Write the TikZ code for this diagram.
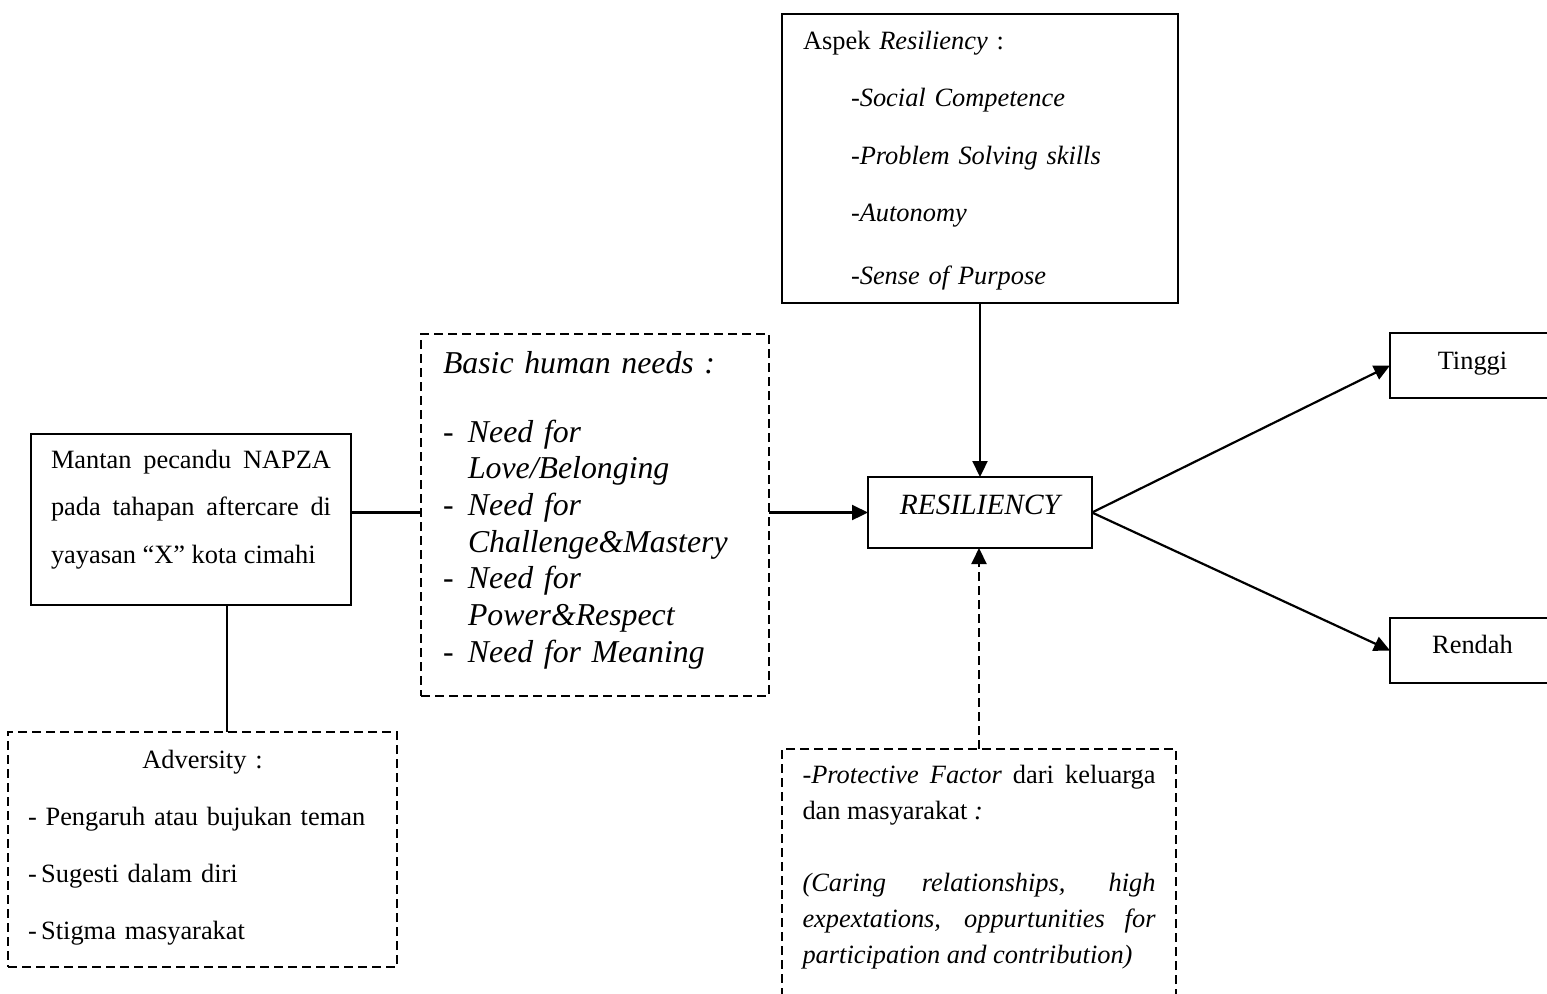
\documentclass[tikz,border=0pt]{standalone}
\usepackage{fontspec}
\setmainfont{Liberation Serif}
\usepackage{tikz}
\usetikzlibrary{arrows.meta}
\newcommand{\fmain}[1]{\fontsize{13.2}{#1}\selectfont}
\newcommand{\nohyph}{\hyphenpenalty=10000 \exhyphenpenalty=10000 \tolerance=10000 }

\begin{document}
\begin{tikzpicture}[x=0.5pt, y=-0.5pt,
	box/.style={draw, line width=1.1pt, anchor=north west, inner ysep=0pt, outer sep=0pt},
	dbox/.style={box, dash pattern=on 4.5pt off 2.5pt},
	link/.style={line width=1.1pt},
	arr/.style={link, -{Triangle[length=8pt, width=7.5pt]}}]
			\useasboundingbox (0,0) rectangle (1547,993);
			\clip (0,0) rectangle (1547,993);
			%   %   %   %   %   %   %   %   %   %   %
			%   Subjek
				\node[box, text width=140pt, inner xsep=10pt, text height=17pt, text depth=68.5pt,
				align=justify, font={\fmain{23.75}\nohyph}] (mantan) at (31,434)
				{Mantan pecandu NAPZA pada tahapan aftercare di yayasan \mbox{“X”} kota cimahi};
			%   %   %   %   %   %   %   %   %   %   %
			%   Adversity
				\node[dbox, text width=174.5pt, inner xsep=10pt, text height=18pt, text depth=99.5pt,
				align=left, font={\fmain{28.5}}] (adver) at (8,732)
				{\makebox[\linewidth]{Adversity :}\\
				- Pengaruh atau bujukan teman\\
				-\,Sugesti dalam diri\\
				-\,Stigma masyarakat};
			%   %   %   %   %   %   %   %   %   %   %
			%   Basic human needs
				\node[dbox, text width=152pt, inner xsep=11pt, text height=19.5pt, text depth=161.5pt,
				align=left, font={\fontsize{15.9}{18.35}\selectfont\itshape}] (basic) at (421,334)
				{Basic human needs :\\[16.15pt]
				\makebox[12.5pt][l]{-}Need for\\ \hspace*{12.5pt}Love/Belonging\\
				\makebox[12.5pt][l]{-}Need for\\ \hspace*{12.5pt}Challenge\&Mastery\\
				\makebox[12.5pt][l]{-}Need for\\ \hspace*{12.5pt}Power\&Respect\\
				\makebox[12.5pt][l]{-}Need for Meaning};
			%   %   %   %   %   %   %   %   %   %   %
			%   Aspek resiliency
				\node[box, text width=177pt, inner xsep=10.5pt, text height=17.5pt, text depth=127pt,
				align=left, font={\fmain{28.75}}] (aspek) at (782,14)
				{Aspek \textit{Resiliency} :\\
				\hspace*{24pt}\textit{-Social Competence}\\
				\hspace*{24pt}\textit{-Problem Solving skills}\\
				\hspace*{24pt}\textit{-Autonomy}\\[2.5pt]
				\hspace*{24pt}\textit{-Sense of Purpose}};
			%   %   %   %   %   %   %   %   %   %   %
			%   Resiliency
				\node[box, minimum width=112pt, text height=18.5pt, text depth=17pt,
				font={\fontsize{14.7}{17}\selectfont\itshape}] (resil) at (868,477) {RESILIENCY};
			%   %   %   %   %   %   %   %   %   %   %
			%   Protective factor
				\node[dbox, text width=176.5pt, inner xsep=10.25pt, text height=17pt, text depth=113.5pt,
				align=justify, font={\fmain{18}\nohyph}] (protect) at (782,749)
				{\textit{-Protective Factor} dari keluarga dan masyarakat \textit{:}\\[18pt]
				\textit{(Caring relationships, high expextations, oppurtunities for participation and contribution)}};
			%   %   %   %   %   %   %   %   %   %   %
			%   Hasil
				\node[box, minimum width=82.5pt, text height=18pt, text depth=14.5pt,
				font={\fmain{16}}] (tinggi) at (1390,333) {Tinggi};
				\node[box, minimum width=82.5pt, text height=17.5pt, text depth=15pt,
				font={\fmain{16}}] (rendah) at (1390,618) {Rendah};
			%   %   %   %   %   %   %   %   %   %   %
			%   Connectors
				\draw[link] (mantan.east |- resil.west) -- (basic.west |- resil.west);
				\draw[link] ([xshift=18pt]mantan.south) -- ([xshift=18pt]mantan.south |- adver.north);
				\draw[arr] (basic.east |- resil.west) -- (resil.west);
				\draw[arr] (aspek.south) -- (resil.north);
				\draw[arr, dash pattern=on 4.5pt off 2.5pt] (protect.north) -- (protect.north |- resil.south);
				\draw[arr] (resil.east) -- (tinggi.west);
				\draw[arr] (resil.east) -- (rendah.west);
\end{tikzpicture}
\end{document}
